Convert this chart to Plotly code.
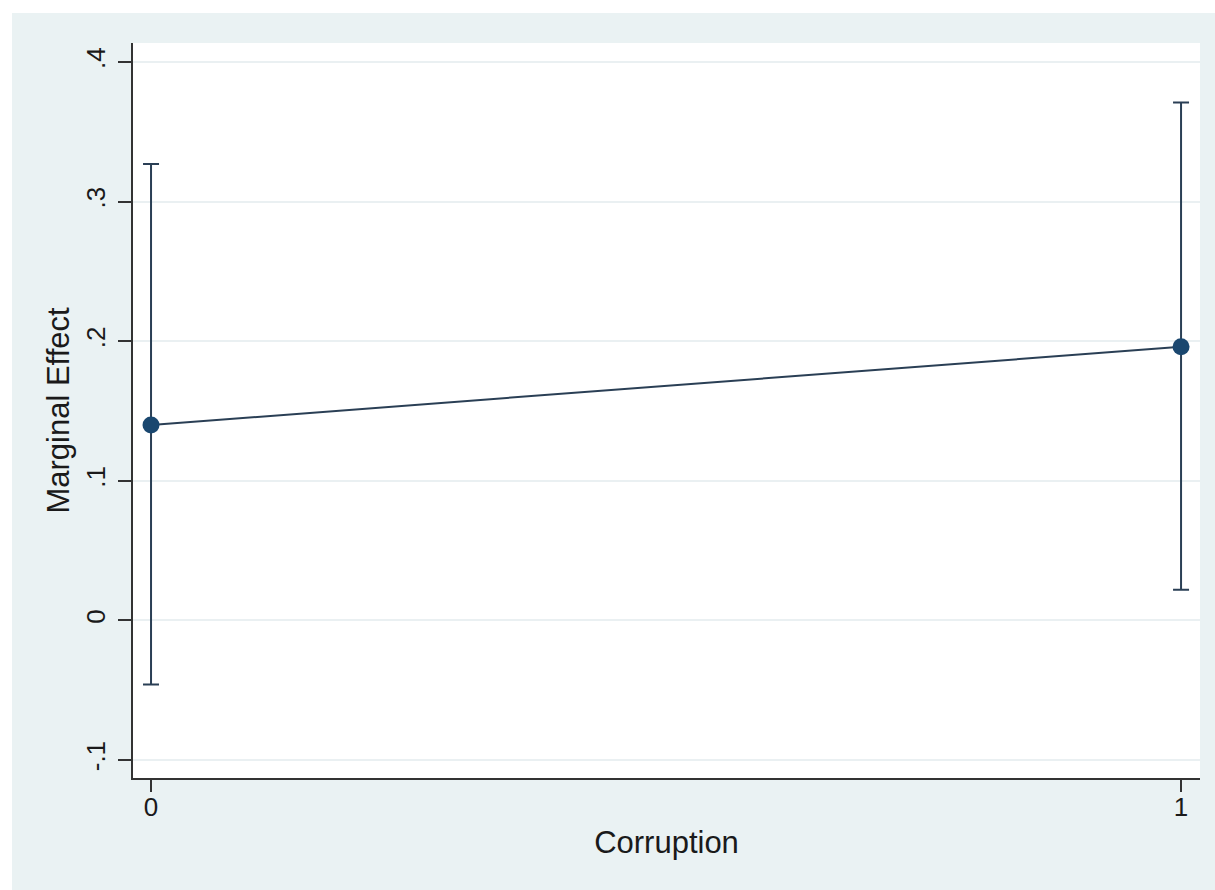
import plotly.graph_objects as go

# Marginal effect estimates with 95% confidence bounds
corruption = [0, 1]
effect = [0.140, 0.196]
ci_upper = [0.327, 0.371]
ci_lower = [-0.046, 0.022]

y_ticks = [-0.1, 0, 0.1, 0.2, 0.3, 0.4]
y_tick_labels = ["-.1", "0", ".1", ".2", ".3", ".4"]
x_ticks = [0, 1]
x_tick_labels = ["0", "1"]

NAVY = "#1a476f"
LINE = "#2a3f55"
OUTER_BG = "#eaf2f3"
FONT = dict(family="Liberation Sans, Arial, sans-serif", size=26, color="#1a1a1a")

err_plus = [u - e for u, e in zip(ci_upper, effect)]
err_minus = [e - l for e, l in zip(effect, ci_lower)]

fig = go.Figure()
fig.add_trace(go.Scatter(
    x=corruption,
    y=effect,
    mode="lines+markers",
    line=dict(color=LINE, width=2),
    marker=dict(color=NAVY, size=17),
    error_y=dict(
        type="data",
        symmetric=False,
        array=err_plus,
        arrayminus=err_minus,
        color=LINE,
        thickness=2,
        width=8,
    ),
    showlegend=False,
    cliponaxis=False,
))

W, H = 1215, 890
ml, mr, mt, mb = 133, 15, 43, 112
pw, ph = W - ml - mr, H - mt - mb

# outer graph region (light blue-grey with thin white border) and white plot region
x0 = -(ml - 12) / pw
x1 = 1 + mr / pw
y0 = -mb / ph
y1 = 1 + (mt - 13) / ph
fig.add_shape(type="rect", xref="paper", yref="paper", x0=x0, x1=x1, y0=y0, y1=y1,
              fillcolor=OUTER_BG, line=dict(width=0), layer="below")
fig.add_shape(type="rect", xref="paper", yref="paper", x0=0, x1=1, y0=0, y1=1,
              fillcolor="white", line=dict(width=0), layer="below")

fig.update_layout(
    width=W,
    height=H,
    margin=dict(l=ml, r=mr, t=mt, b=mb, pad=0),
    paper_bgcolor="white",
    plot_bgcolor="white",
    font=FONT,
    xaxis=dict(
        range=[-0.0175, 1.0184],
        tickvals=x_ticks,
        ticktext=x_tick_labels,
        ticks="outside",
        ticklen=12,
        tickwidth=1.5,
        tickcolor="#333333",
        showline=True,
        linecolor="#333333",
        linewidth=1.5,
        showgrid=False,
        zeroline=False,
        ticklabelstandoff=-7,
        title=dict(text="Corruption", standoff=10),
    ),
    yaxis=dict(
        range=[-0.1129, 0.4136],
        tickvals=y_ticks,
        ticktext=y_tick_labels,
        tickangle=-90,
        ticks="outside",
        ticklen=13,
        tickwidth=1.5,
        tickcolor="#333333",
        showline=True,
        linecolor="#333333",
        linewidth=1.5,
        showgrid=True,
        gridcolor="#eaf0f2",
        gridwidth=1.5,
        zeroline=False,
        ticklabelstandoff=3,
        title=dict(text="Marginal Effect", standoff=2),
    ),
)

fig.write_html("out.html")
